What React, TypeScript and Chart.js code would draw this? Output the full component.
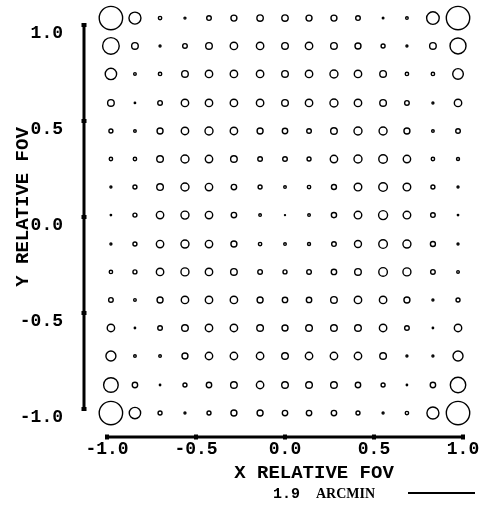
import { useEffect, useRef } from "react";
import { Chart, registerables } from "chart.js";

Chart.register(...registerables);

// Field positions of the spot grid (relative FOV)
const fieldX = [-0.978, -0.843, -0.702, -0.562, -0.427, -0.287, -0.14, 0, 0.135, 0.275, 0.41, 0.551, 0.685, 0.831, 0.972];
const fieldY = [1.036, 0.891, 0.745, 0.594, 0.448, 0.302, 0.156, 0.01, -0.141, -0.286, -0.432, -0.578, -0.724, -0.875, -1.021];

// Spot radius for each field point (rows top -> bottom, columns left -> right)
const spotRow01 = [11.7, 6, 1.7, 1, 2.3, 3, 3.2, 3.2, 3, 3, 2.3, 0.8, 1.3, 6.3, 11.7];
const spotRow02 = [8.3, 3.3, 1, 2.3, 3.3, 3.7, 3.7, 3.3, 3.7, 3.3, 3, 2, 1, 3.3, 8];
const spotRow03 = [5.7, 1.3, 1.7, 3.3, 3.7, 3.7, 3.7, 3.3, 3.7, 4, 3.7, 3.3, 1.7, 1.7, 5.3];
const spotRow04 = [3.3, 0.7, 2.3, 3.7, 3.7, 3.7, 3.7, 3.3, 3.7, 4, 3.7, 3.3, 2.3, 1, 3.7];
const spotRow05 = [2, 1.3, 3, 3.7, 4, 3.7, 3, 2.7, 2.3, 3.3, 4, 4, 3, 1.3, 2.3];
const spotRow06 = [1.7, 1.7, 3.3, 4, 3.7, 3.3, 2.3, 2.3, 2, 3.7, 4, 4.3, 3.7, 1.7, 1.5];
const spotRow07 = [1, 2, 3.3, 4, 3.7, 2.7, 2, 1.3, 1.7, 2.5, 3.8, 4.3, 3.8, 2, 1];
const spotRow08 = [0.7, 2, 3.7, 4, 3.7, 2.7, 1.3, 0.5, 1.3, 2.6, 3.8, 4.5, 3.8, 2.3, 0.7];
const spotRow09 = [1, 2, 3.7, 4, 3.7, 3, 1.7, 1.3, 1.5, 2.3, 3.5, 4.3, 4, 2.5, 1];
const spotRow10 = [1.7, 2, 3.7, 4, 3.7, 3.3, 2.3, 2, 2.3, 2.7, 3.3, 4.3, 4, 2.3, 1.3];
const spotRow11 = [2.3, 1.3, 3, 3.7, 3.7, 3.7, 3, 2.7, 2.7, 3.3, 3.7, 3.7, 3, 1, 2];
const spotRow12 = [3.7, 0.7, 2.3, 3.3, 3.7, 3.7, 3.3, 3, 3.3, 3.3, 3.3, 3.7, 2.3, 0.7, 3.7];
const spotRow13 = [5, 1.3, 1.3, 3, 3.7, 3.7, 3.7, 3.3, 3.7, 3.7, 3.7, 3.3, 1, 1, 5];
const spotRow14 = [7.3, 2.7, 0.7, 2, 2.7, 3.3, 3.7, 3.3, 3.3, 3.3, 2.7, 2, 0.7, 2.7, 7.7];
const spotRow15 = [11.7, 5.7, 2, 1, 2, 3, 3, 2.7, 2.7, 2.7, 2, 1, 1.7, 6, 11.7];

const spotRows = [
  spotRow01, spotRow02, spotRow03, spotRow04, spotRow05,
  spotRow06, spotRow07, spotRow08, spotRow09, spotRow10,
  spotRow11, spotRow12, spotRow13, spotRow14, spotRow15,
];

const axisTicks = [-1, -0.5, 0, 0.5, 1];
const xTitle = "X RELATIVE FOV";
const yTitle = "Y RELATIVE FOV";
const scaleValue = "1.9";
const scaleUnit = "ARCMIN";

const MONO = '"Liberation Mono", "DejaVu Sans Mono", monospace';

export default function App() {
  const ref = useRef<HTMLCanvasElement>(null);

  useEffect(() => {
    if (!ref.current) return;
    const points: { x: number; y: number }[] = [];
    const radii: number[] = [];
    fieldY.forEach((y, r) => {
      fieldX.forEach((x, c) => {
        points.push({ x, y });
        radii.push(spotRows[r][c]);
      });
    });

    const decorations = {
      id: "decorations",
      afterDraw(chart: any) {
        const { ctx, chartArea } = chart;
        const xs = chart.scales.x;
        const ys = chart.scales.y;
        ctx.save();
        ctx.strokeStyle = "#000";
        ctx.fillStyle = "#000";
        ctx.lineWidth = 3;
        // detached Y axis line
        const yAxisX = chartArea.left - 23;
        ctx.beginPath();
        ctx.moveTo(yAxisX, ys.getPixelForValue(1));
        ctx.lineTo(yAxisX, ys.getPixelForValue(-1));
        ctx.stroke();
        // detached X axis line
        const xAxisY = ys.getPixelForValue(-1) + 28;
        ctx.beginPath();
        ctx.moveTo(xs.getPixelForValue(-1), xAxisY);
        ctx.lineTo(xs.getPixelForValue(1), xAxisY);
        ctx.stroke();
        // tick nubs
        axisTicks.forEach((t) => {
          const px = xs.getPixelForValue(t);
          ctx.fillRect(px - 2, xAxisY - 2.5, 4, 5);
          const py = ys.getPixelForValue(t);
          ctx.fillRect(yAxisX - 2.5, py - 2, 5, 4);
        });
        // titles
        ctx.font = `bold 19px ${MONO}`;
        ctx.textAlign = "center";
        ctx.textBaseline = "middle";
        ctx.fillText(xTitle, 314, 473);
        ctx.save();
        ctx.translate(23, 207);
        ctx.rotate(-Math.PI / 2);
        ctx.fillText(yTitle, 0, 0);
        ctx.restore();
        // scale bar
        ctx.textAlign = "left";
        ctx.font = `bold 15px ${MONO}`;
        ctx.fillText(scaleValue, 273, 494);
        ctx.font = 'bold 14px "Liberation Serif", serif';
        ctx.fillText(scaleUnit, 316, 494);
        ctx.lineWidth = 2;
        ctx.beginPath();
        ctx.moveTo(408, 493);
        ctx.lineTo(475, 493);
        ctx.stroke();
        ctx.restore();
      },
    };

    const chart = new Chart(ref.current, {
      type: "scatter",
      data: {
        datasets: [
          {
            data: points,
            pointRadius: radii,
            pointHoverRadius: radii,
            pointStyle: "circle",
            backgroundColor: "rgba(0,0,0,0)",
            borderColor: "#000",
            pointBorderWidth: 1.4,
            clip: false,
          },
        ],
      },
      options: {
        animation: false,
        responsive: false,
        events: [],
        layout: { autoPadding: false, padding: { left: 0, right: 32, top: 5.8, bottom: 0 } },
        plugins: {
          legend: { display: false },
          tooltip: { enabled: false },
          title: { display: false },
        },
        scales: {
          x: {
            type: "linear",
            min: -1,
            max: 1,
            afterFit(scale: any) {
              scale.height = 77.8;
              scale.paddingLeft = 0;
              scale.paddingRight = 0;
              scale.paddingTop = 0;
              scale.paddingBottom = 0;
            },
            afterBuildTicks(scale: any) {
              scale.ticks = axisTicks.map((v) => ({ value: v }));
            },
            grid: { display: false, drawTicks: false },
            border: { display: false },
            ticks: {
              padding: 10.8,
              color: "#000",
              maxRotation: 0,
              font: { family: MONO, size: 18, weight: "bold" },
              callback: (v: any) => Number(v).toFixed(1),
            },
          },
          y: {
            type: "linear",
            min: -1.1,
            max: 1.1,
            afterFit(scale: any) {
              scale.width = 107;
              scale.paddingLeft = 0;
              scale.paddingRight = 0;
              scale.paddingTop = 0;
              scale.paddingBottom = 0;
            },
            afterBuildTicks(scale: any) {
              scale.ticks = axisTicks.map((v) => ({ value: v }));
            },
            grid: { display: false, drawTicks: false },
            border: { display: false },
            ticks: {
              padding: 44,
              labelOffset: 8,
              color: "#000",
              font: { family: MONO, size: 18, weight: "bold" },
              callback: (v: any) => Number(v).toFixed(1),
            },
          },
        },
      },
      plugins: [decorations],
    });
    return () => chart.destroy();
  }, []);

  return (
    <div style={{ position: "absolute", left: 0, top: 0, width: 495, height: 506, background: "#fff" }}>
      <canvas ref={ref} width={495} height={506} style={{ width: 495, height: 506, display: "block" }} />
    </div>
  );
}
